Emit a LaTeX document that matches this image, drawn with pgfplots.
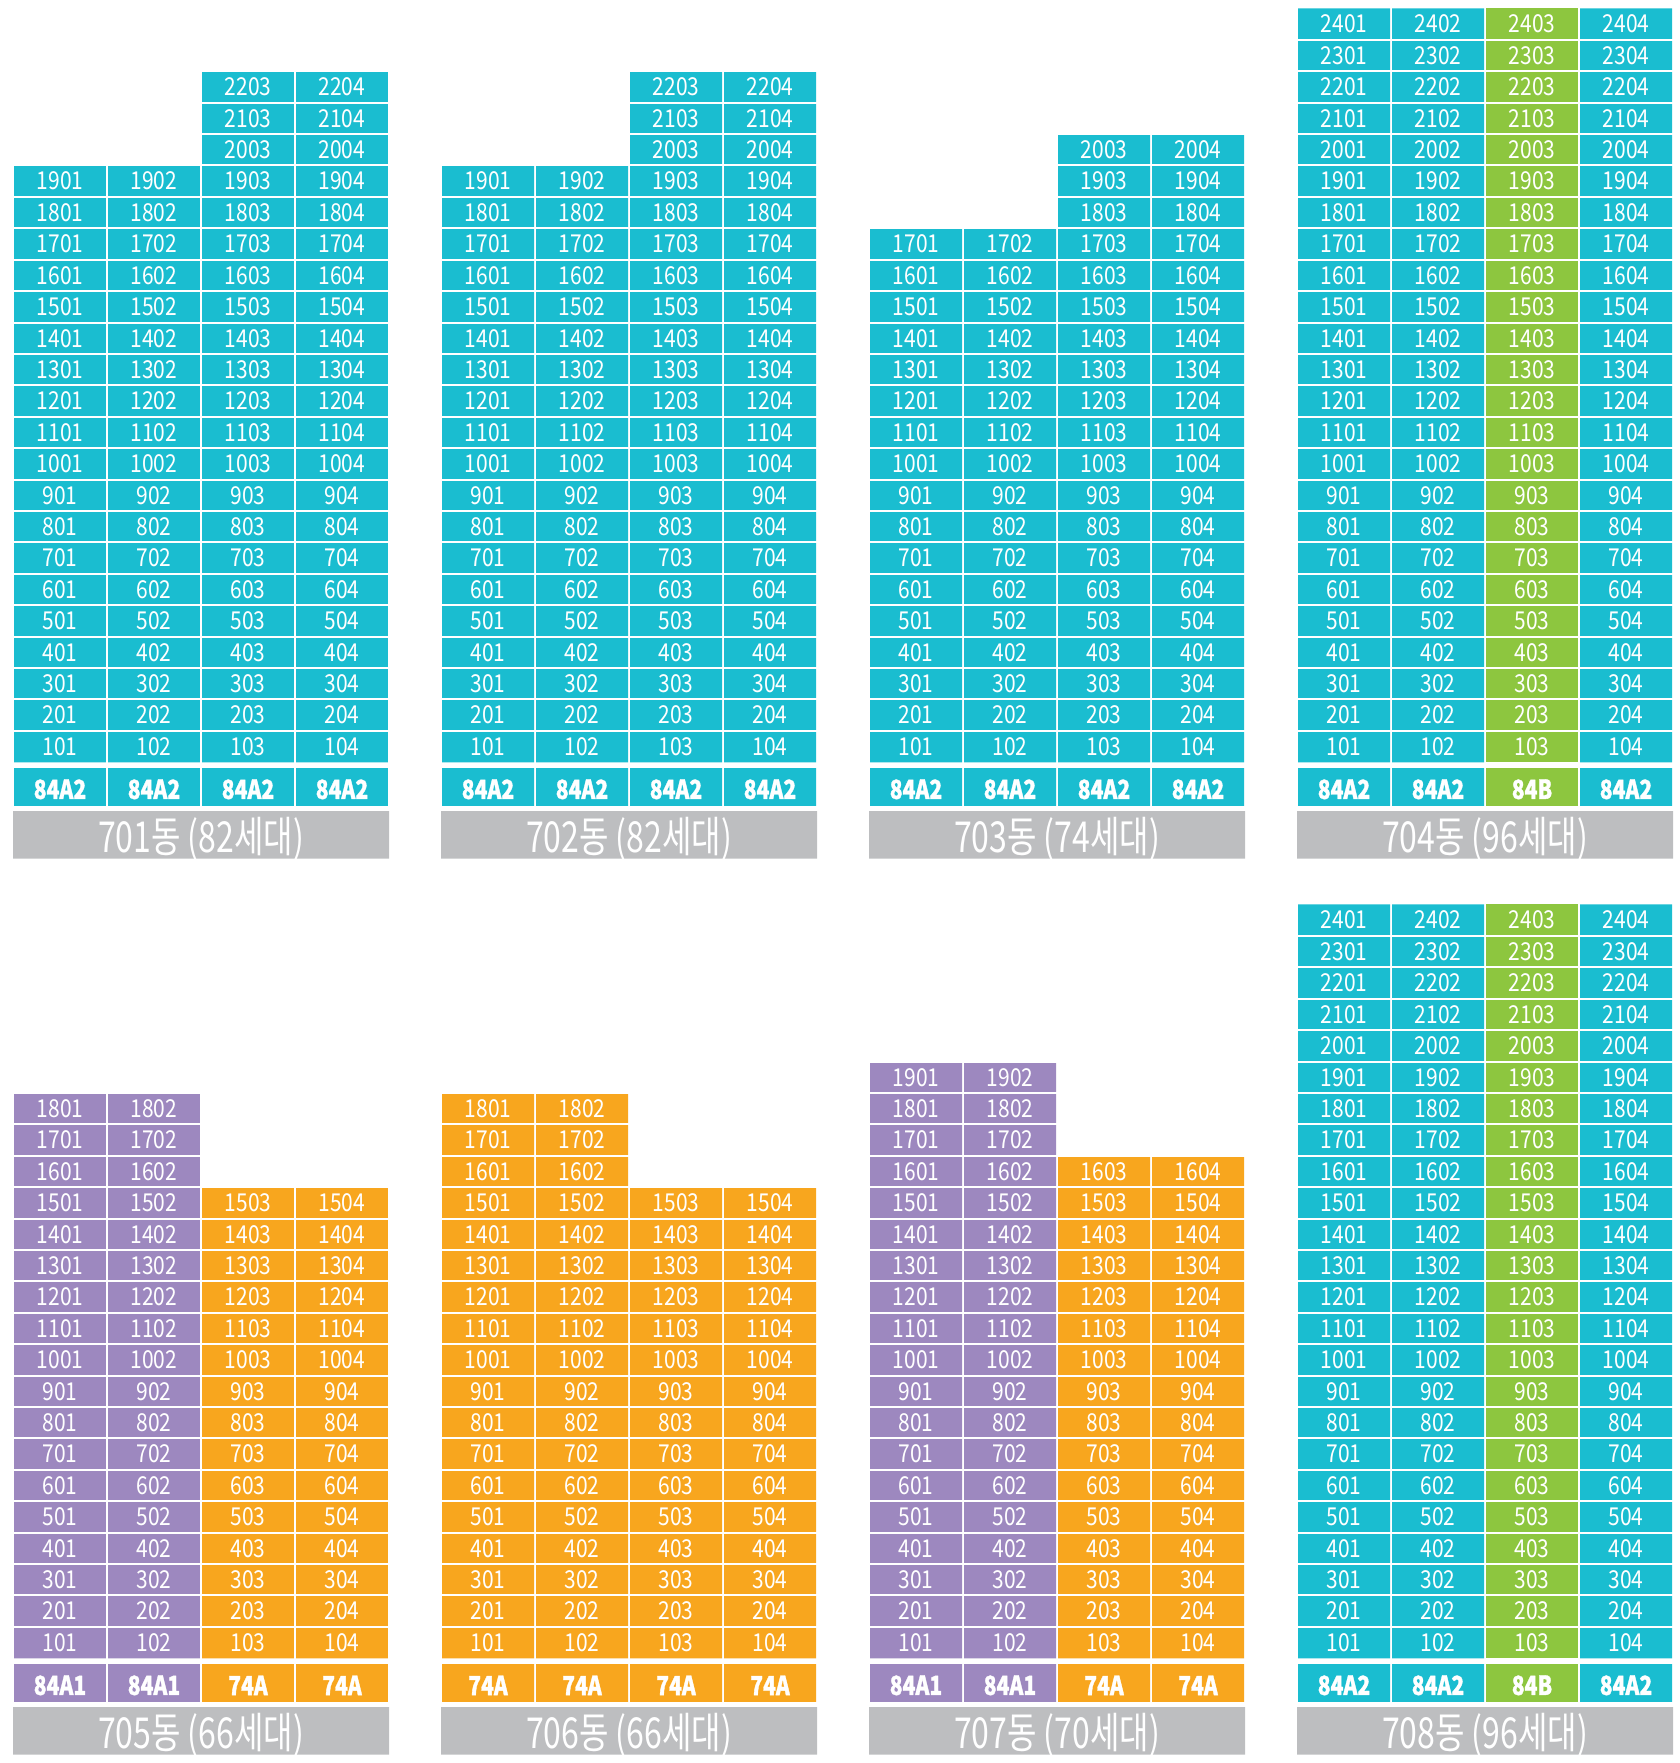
\documentclass[border=0pt]{standalone}
\usepackage{pgfplots}
\pgfplotsset{compat=1.18}
\usepackage{fontspec}
\setmainfont{Noto Sans CJK KR}
\newfontfamily\cellfont[FakeStretch=0.85]{Noto Sans CJK KR}
\newfontfamily\typefont[FakeStretch=0.8, BoldFeatures={FakeBold=1.2}]{Noto Sans CJK KR}
\newfontfamily\labfont[FakeStretch=0.75]{Noto Sans CJK KR}
\definecolor{cy}{HTML}{1ABDD0}
\definecolor{gr}{HTML}{8DC63F}
\definecolor{pu}{HTML}{9D88BF}
\definecolor{orc}{HTML}{F8A61E}
\definecolor{gy}{HTML}{BDBEC0}
\tikzset{
  cellnum/.style={font=\cellfont\fontsize{7.4}{8}\selectfont, text=white, inner sep=0pt, anchor=center},
  typelab/.style={font=\typefont\bfseries\fontsize{7.9}{8}\selectfont, text=white, inner sep=0pt, anchor=center},
  donglab/.style={font=\labfont\fontsize{12.8}{14}\selectfont, text=white, inner sep=0pt, anchor=center}
}
\pgfplotsset{
  common/.style={at={(0,0)}, anchor=south west, scale only axis,
    width=503.7pt, height=528.9pt, xmin=0, xmax=17.862, enlargelimits=false,
    axis line style={draw=none}, xtick=\empty, ytick={1,...,23}, yticklabels={},
    major tick length=0pt, ymajorgrids, grid style={white, line width=0.6pt},
    axis on top, clip=false},
  bar/.style={ybar, bar width=0.9787, bar shift=0pt, draw=none},
  gbar/.style={ybar, bar width=4.0, bar shift=0pt, draw=none, fill=gy}
}
\newcommand\cellnums[3]{%
  \foreach \f in {1,...,#3}{%
    \edef\tmp{\noexpand\node[cellnum] at (axis cs:#1,\f-0.5) {\f0#2};}\tmp}}
\newcommand\bnums[5]{\cellnums{#1}{1}{#2}\cellnums{#1+1}{2}{#3}\cellnums{#1+2}{3}{#4}\cellnums{#1+3}{4}{#5}}
\newcommand\typelabels[1]{%
  \foreach \x/\t in {#1}{%
    \edef\tmp{\noexpand\node[typelab] at (axis cs:\x,-0.86) {\t};}\tmp}}
\begin{document}
\begin{tikzpicture}[x=1pt,y=1pt]
\path[use as bounding box] (0,0) rectangle (503.7,528.9);
% ---------------- top row: 701-704 ----------------
\begin{axis}[common, ymin=-31.859, ymax=24.269]
  \addplot[gbar] coordinates {(2.1383,-3.07)(6.6915,-3.07)(11.2447,-3.07)(15.7979,-3.07)};
  \addplot[fill=white, draw=none] coordinates {(0,0)(17.862,0)(17.862,-1.54)(0,-1.54)} -- cycle;
  \addplot[bar, fill=cy] coordinates {(0.6383,-1.39)(1.6383,-1.39)(2.6383,-1.39)(3.6383,-1.39)
     (5.1915,-1.39)(6.1915,-1.39)(7.1915,-1.39)(8.1915,-1.39)
     (9.7447,-1.39)(10.7447,-1.39)(11.7447,-1.39)(12.7447,-1.39)
     (14.2979,-1.39)(15.2979,-1.39)(17.2979,-1.39)};
  \addplot[bar, fill=gr] coordinates {(16.2979,-1.39)};
  \addplot[fill=white, draw=none] coordinates {(0,0)(17.862,0)(17.862,-0.19)(0,-0.19)} -- cycle;
  % units (number of floors per line)
  \addplot[bar, fill=cy] coordinates {(0.6383,19)(1.6383,19)(2.6383,22)(3.6383,22)
     (5.1915,19)(6.1915,19)(7.1915,22)(8.1915,22)
     (9.7447,17)(10.7447,17)(11.7447,20)(12.7447,20)
     (14.2979,24)(15.2979,24)(17.2979,24)};
  \addplot[bar, fill=gr] coordinates {(16.2979,24)};
  \bnums{0.6383}{19}{19}{22}{22}
  \bnums{5.1915}{19}{19}{22}{22}
  \bnums{9.7447}{17}{17}{20}{20}
  \bnums{14.2979}{24}{24}{24}{24}
  \typelabels{0.6383/84A2,1.6383/84A2,2.6383/84A2,3.6383/84A2,
    5.1915/84A2,6.1915/84A2,7.1915/84A2,8.1915/84A2,
    9.7447/84A2,10.7447/84A2,11.7447/84A2,12.7447/84A2,
    14.2979/84A2,15.2979/84A2,16.2979/84B,17.2979/84A2}
  \node[donglab] at (axis cs:2.1383,-2.43) {701동 (82세대)};
  \node[donglab] at (axis cs:6.6915,-2.43) {702동 (82세대)};
  \node[donglab] at (axis cs:11.2447,-2.43) {703동 (74세대)};
  \node[donglab] at (axis cs:15.7979,-2.43) {704동 (96세대)};
\end{axis}
% ---------------- bottom row: 705-708 ----------------
\begin{axis}[common, ymin=-3.333, ymax=52.796]
  \addplot[gbar] coordinates {(2.1383,-3.07)(6.6915,-3.07)(11.2447,-3.07)(15.7979,-3.07)};
  \addplot[fill=white, draw=none] coordinates {(0,0)(17.862,0)(17.862,-1.54)(0,-1.54)} -- cycle;
  \addplot[bar, fill=pu] coordinates {(0.6383,-1.39)(1.6383,-1.39)(9.7447,-1.39)(10.7447,-1.39)};
  \addplot[bar, fill=orc] coordinates {(2.6383,-1.39)(3.6383,-1.39)
     (5.1915,-1.39)(6.1915,-1.39)(7.1915,-1.39)(8.1915,-1.39)
     (11.7447,-1.39)(12.7447,-1.39)};
  \addplot[bar, fill=cy] coordinates {(14.2979,-1.39)(15.2979,-1.39)(17.2979,-1.39)};
  \addplot[bar, fill=gr] coordinates {(16.2979,-1.39)};
  \addplot[fill=white, draw=none] coordinates {(0,0)(17.862,0)(17.862,-0.19)(0,-0.19)} -- cycle;
  % units (number of floors per line)
  \addplot[bar, fill=pu] coordinates {(0.6383,18)(1.6383,18)(9.7447,19)(10.7447,19)};
  \addplot[bar, fill=orc] coordinates {(2.6383,15)(3.6383,15)
     (5.1915,18)(6.1915,18)(7.1915,15)(8.1915,15)
     (11.7447,16)(12.7447,16)};
  \addplot[bar, fill=cy] coordinates {(14.2979,24)(15.2979,24)(17.2979,24)};
  \addplot[bar, fill=gr] coordinates {(16.2979,24)};
  \bnums{0.6383}{18}{18}{15}{15}
  \bnums{5.1915}{18}{18}{15}{15}
  \bnums{9.7447}{19}{19}{16}{16}
  \bnums{14.2979}{24}{24}{24}{24}
  \typelabels{0.6383/84A1,1.6383/84A1,2.6383/74A,3.6383/74A,
    5.1915/74A,6.1915/74A,7.1915/74A,8.1915/74A,
    9.7447/84A1,10.7447/84A1,11.7447/74A,12.7447/74A,
    14.2979/84A2,15.2979/84A2,16.2979/84B,17.2979/84A2}
  \node[donglab] at (axis cs:2.1383,-2.43) {705동 (66세대)};
  \node[donglab] at (axis cs:6.6915,-2.43) {706동 (66세대)};
  \node[donglab] at (axis cs:11.2447,-2.43) {707동 (70세대)};
  \node[donglab] at (axis cs:15.7979,-2.43) {708동 (96세대)};
\end{axis}
\end{tikzpicture}
\end{document}
